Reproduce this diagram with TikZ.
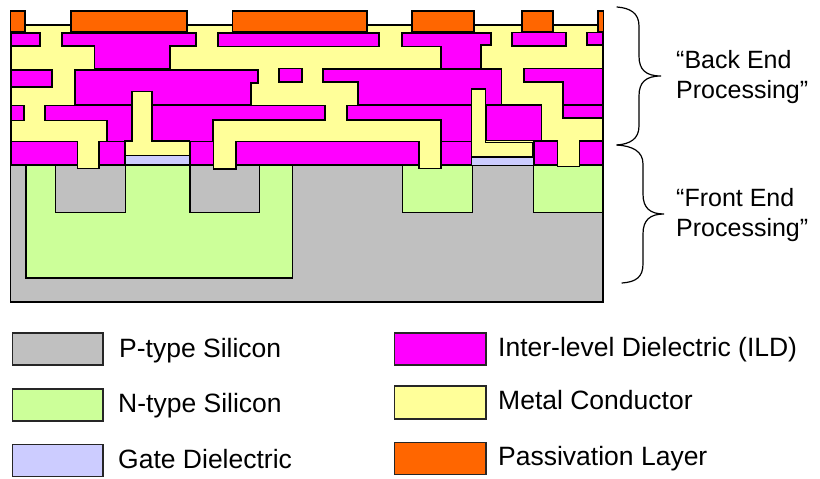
\documentclass[tikz,border=0pt]{standalone}
\usepackage{fontspec}
\setmainfont{Liberation Sans}
\definecolor{ptype}{HTML}{C0C0C0}
\definecolor{ntype}{HTML}{CCFF99}
\definecolor{gatecol}{HTML}{CCCCFF}
\definecolor{metal}{HTML}{FFFF99}
\definecolor{ild}{HTML}{FF00FF}
\definecolor{passiv}{HTML}{FF6600}
\tikzset{
  edge/.style={draw=black,line width=1.3pt,line join=miter},
  psi/.style={edge,fill=ptype},
  nsi/.style={edge,fill=ntype},
  gox/.style={edge,fill=gatecol},
  met/.style={edge,fill=metal},
  diel/.style={edge,fill=ild},
  pas/.style={edge,fill=passiv},
  brace/.style={draw=black,line width=1.2pt,line cap=round},
  swatch/.style={draw=black!85,line width=1.3pt},
  lbl/.style={anchor=base west,inner sep=0pt,font=\fontsize{26.5}{30}\selectfont},
  side/.style={anchor=base west,inner sep=0pt,font=\fontsize{25}{30}\selectfont}
}
\begin{document}
\begin{tikzpicture}[x=1pt,y=-1pt]
\useasboundingbox (0,0) rectangle (820,479);
\fill[white] (0,0) rectangle (820,479);
% substrate
\path[psi] (10.5,165) rectangle (603,302);
\path[nsi] (26,165) rectangle (292.7,278);
\path[psi] (55.7,165) rectangle (125.5,212.7);
\path[psi] (190,165) rectangle (259.3,212.7);
\path[nsi] (402.7,165) rectangle (472.3,212.7);
\path[nsi] (533.3,165) rectangle (602.7,212.7);
% metal body
\fill[metal] (11,25) rectangle (603,142);
\draw[edge] (11,25) -- (603,25);
\draw[edge] (11,32) -- (11,142);
\draw[edge] (603,32) -- (603,142);
% first dielectric layer
\path[diel] (11,33) -- (40,33) -- (40,46) -- (11,46) -- cycle;
\path[diel] (62,33) -- (196,33) -- (196,46) -- (170,46) -- (170,69) -- (94.5,69) -- (94.5,46) -- (62,46) -- cycle;
\path[diel] (218,33) -- (379,33) -- (379,46.5) -- (218,46.5) -- cycle;
\path[diel] (402,33) -- (491,33) -- (491,45) -- (481,45) -- (481,68.5) -- (441,68.5) -- (441,46.5) -- (402,46.5) -- cycle;
\path[diel] (512,32.5) -- (566,32.5) -- (566,46) -- (512,46) -- cycle;
\path[diel] (587,32.5) -- (603,32.5) -- (603,45) -- (587,45) -- cycle;
% second dielectric layer
\path[diel] (11,70) -- (52,70) -- (52,87) -- (11,87) -- cycle;
\path[diel] (75,70) -- (258,70) -- (258,83) -- (251,83) -- (251,105) -- (75,105) -- cycle;
\path[diel] (279,68.5) -- (302,68.5) -- (302,82) -- (279,82) -- cycle;
\path[diel] (323,69) -- (501.5,69) -- (501.5,105) -- (358,105) -- (358,82) -- (323,82) -- cycle;
\path[diel] (524,68.5) -- (603,68.5) -- (603,105) -- (563,105) -- (563,82) -- (524,82) -- cycle;
% third dielectric layer
\path[diel] (11,105.5) -- (24,105.5) -- (24,120.5) -- (11,120.5) -- cycle;
\path[diel] (45,105.5) -- (325,105.5) -- (325,120) -- (213,120) -- (213,141.5) -- (107,141.5) -- (107,120.5) -- (45,120.5) -- cycle;
\path[diel] (347,105.5) -- (472,105.5) -- (472,141.5) -- (441,141.5) -- (441,120) -- (347,120) -- cycle;
\path[diel] (486,105) -- (541.7,105) -- (541.7,140.7) -- (486,140.7) -- cycle;
\path[diel] (563,105) -- (603,105) -- (603,118) -- (563,118) -- cycle;
% fourth dielectric layer
\path[diel] (11,141.5) rectangle (77.5,165);
\path[diel] (99,141.5) rectangle (125,165);
\path[diel] (190,141.5) rectangle (213.5,165);
\path[diel] (236,141.5) rectangle (419,165);
\path[diel] (441,141.5) rectangle (471.5,165);
\path[diel] (534,141) rectangle (557.7,165);
\path[diel] (579.5,141) rectangle (603,165);
% gate dielectric
\path[gox] (125,155.5) rectangle (190,165);
\path[gox] (471.5,157) rectangle (533.5,165.5);
% contacts
\path[met] (77.5,142) -- (77.5,168.5) -- (99,168.5) -- (99,142);
\path[met] (213.5,142) -- (213.5,169) -- (236,169) -- (236,142);
\path[met] (419,142) -- (419,168.5) -- (441,168.5) -- (441,142);
\path[met] (557.7,141.5) -- (557.7,166.5) -- (579.5,166.5) -- (579.5,141.5);
% gates
\path[met] (125,141) -- (132,141) -- (132,91.5) -- (152,91.5) -- (152,141) -- (189.5,141) -- (189.5,155.5) -- (125,155.5) -- cycle;
\path[met] (471.5,89) -- (485.5,89) -- (485.5,142.7) -- (533,142.7) -- (533,157) -- (471.5,157) -- cycle;
% passivation
\path[pas] (10.5,11) rectangle (25,32);
\path[pas] (71,11) rectangle (187,32);
\path[pas] (232.5,11) rectangle (367,32);
\path[pas] (412,11) rectangle (474,32);
\path[pas] (522,11) rectangle (553,32);
\path[pas] (598,11) rectangle (603.5,32);
% braces
\coordinate (ba) at (617,7);
\coordinate (bb) at (661,76);
\coordinate (bc) at (617,145);
\coordinate (fa) at (664,214);
\coordinate (fb) at (622,283);
\draw[brace] (ba) .. controls (630,8) and (639,13) .. (639,26) -- (639,56)
  .. controls (639,70) and (646,76) .. (bb)
  .. controls (646,76) and (639,82) .. (639,96) -- (639,126)
  .. controls (639,139) and (630,144) .. (bc);
\draw[brace] (bc) .. controls (632,146) and (643,151) .. (643,164) -- (643,194)
  .. controls (643,208) and (650,214) .. (fa)
  .. controls (650,214) and (643,220) .. (643,234) -- (643,264)
  .. controls (643,277) and (636,282) .. (fb);
% side labels
\node[side] (back1) at (676,68) {“Back End};
\node[side] (back2) at (676,98) {Processing”};
\node[side] (front1) at (676,206) {“Front End};
\node[side] (front2) at (676,236) {Processing”};
% legend
\path[swatch,fill=ptype] (12.5,333) rectangle (103,365);
\path[swatch,fill=ntype] (12.5,389) rectangle (103,421);
\path[swatch,fill=gatecol] (12.5,444.5) rectangle (103,476.5);
\path[swatch,fill=ild] (394.7,333) rectangle (486,365);
\path[swatch,fill=metal] (394.7,386) rectangle (486,419);
\path[swatch,fill=passiv] (394.7,442.5) rectangle (486,474.5);
\node[lbl] (l1) at (119,357) {P-type Silicon};
\node[lbl] (l2) at (118,412) {N-type Silicon};
\node[lbl] (l3) at (118,468) {Gate Dielectric};
\node[lbl] (l4) at (498,356) {Inter-level Dielectric (ILD)};
\node[lbl] (l5) at (498,409) {Metal Conductor};
\node[lbl] (l6) at (498,465) {Passivation Layer};
\end{tikzpicture}
\end{document}
